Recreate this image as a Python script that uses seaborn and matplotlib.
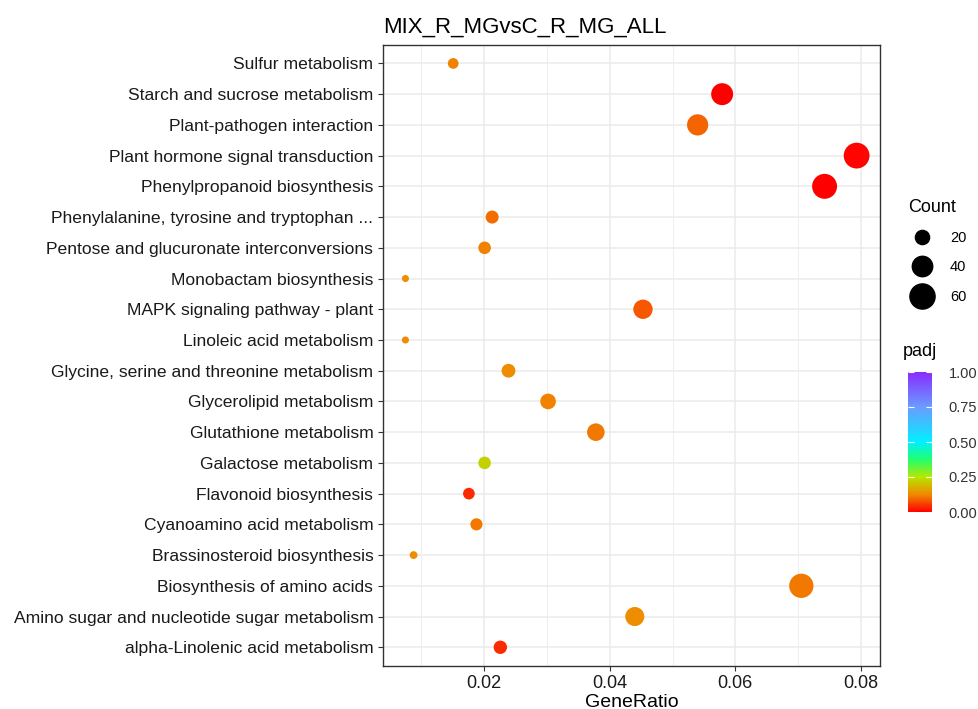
import numpy as np
import pandas as pd
import matplotlib
matplotlib.use("Agg")
import matplotlib.pyplot as plt
import seaborn as sns
from matplotlib.colors import LinearSegmentedColormap, Normalize
from matplotlib.lines import Line2D
import matplotlib.ticker as mticker

pathways = [
    "Sulfur metabolism",
    "Starch and sucrose metabolism",
    "Plant-pathogen interaction",
    "Plant hormone signal transduction",
    "Phenylpropanoid biosynthesis",
    "Phenylalanine, tyrosine and tryptophan ...",
    "Pentose and glucuronate interconversions",
    "Monobactam biosynthesis",
    "MAPK signaling pathway - plant",
    "Linoleic acid metabolism",
    "Glycine, serine and threonine metabolism",
    "Glycerolipid metabolism",
    "Glutathione metabolism",
    "Galactose metabolism",
    "Flavonoid biosynthesis",
    "Cyanoamino acid metabolism",
    "Brassinosteroid biosynthesis",
    "Biosynthesis of amino acids",
    "Amino sugar and nucleotide sugar metabolism",
    "alpha-Linolenic acid metabolism",
]
gene_ratio = [0.0151, 0.0579, 0.0540, 0.0793, 0.0742, 0.0213, 0.0201, 0.0075, 0.0453, 0.0075,
              0.0239, 0.0302, 0.0378, 0.0201, 0.0176, 0.0188, 0.0088, 0.0705, 0.0440, 0.0226]
count = [12, 46, 43, 63, 59, 17, 16, 6, 36, 6,
         19, 24, 30, 16, 14, 15, 7, 56, 35, 18]
padj = [0.12, 0.0, 0.09, 0.005, 0.0, 0.10, 0.12, 0.13, 0.08, 0.13,
        0.13, 0.12, 0.11, 0.22, 0.04, 0.11, 0.13, 0.11, 0.13, 0.04]

df = pd.DataFrame({"Pathway": pathways, "GeneRatio": gene_ratio, "Count": count, "padj": padj})

cmap = LinearSegmentedColormap.from_list("padj", [
    (0.0, "#ff0000"), (0.125, "#f08a00"), (0.25, "#b4e800"), (0.375, "#20ff70"),
    (0.5, "#00f0ff"), (0.75, "#6a9cff"), (1.0, "#8a2bff")])

plt.rcParams["font.family"] = ["Liberation Sans", "DejaVu Sans"]

fig = plt.figure(figsize=(9.79, 7.09), dpi=100)
ax = fig.add_axes([383 / 979, 1 - 665.7 / 709, 497 / 979, 620.7 / 709])

sns.scatterplot(data=df, x="GeneRatio", y="Pathway", hue="padj", palette=cmap, hue_norm=(0, 1),
                size="Count", sizes=(26, 345), size_norm=(6, 63), linewidth=0,
                legend=False, ax=ax, zorder=3)

ax.set_xlim(0.00393, 0.08302)
ax.set_ylim(len(pathways) - 0.4, -0.6)
ax.xaxis.set_major_locator(mticker.FixedLocator([0.02, 0.04, 0.06, 0.08]))
ax.xaxis.set_minor_locator(mticker.FixedLocator([0.01, 0.03, 0.05, 0.07]))
ax.set_xticklabels(["0.02", "0.04", "0.06", "0.08"])
ax.grid(which="major", color="#ebebeb", linewidth=1.1, zorder=0)
ax.grid(which="minor", axis="x", color="#ebebeb", linewidth=0.6, zorder=0)
ax.set_axisbelow(True)
for s in ax.spines.values():
    s.set_color("#333333")
    s.set_linewidth(1.0)
ax.tick_params(axis="both", which="major", length=3.5, color="#333333",
               labelcolor="#1a1a1a", width=0.8)
ax.tick_params(axis="y", labelsize=12.6)
ax.tick_params(axis="x", labelsize=13)
ax.tick_params(axis="x", which="minor", length=0)
ax.set_xlabel("GeneRatio", fontsize=14, labelpad=1)
ax.set_ylabel("")
ax.set_title("MIX_R_MGvsC_R_MG_ALL", fontsize=16, pad=9, loc="left")

# size legend
def diam(c):
    s = 26 + (c - 6) * (345 - 26) / (63 - 6)
    return np.sqrt(s)

handles = [Line2D([], [], marker="o", linestyle="", color="black", markersize=diam(c), label=str(c))
           for c in [20, 40, 60]]
fig.legend(handles=handles, title="Count", loc="upper left", bbox_to_anchor=(902 / 979, 1 - 193 / 709),
           frameon=False, fontsize=10.5, title_fontsize=13, labelspacing=1.05, handletextpad=0.9,
           borderaxespad=0, alignment="left")

# colour bar
cax = fig.add_axes([908 / 979, 1 - 512 / 709, 24 / 979, 140 / 709])
cb = fig.colorbar(plt.cm.ScalarMappable(norm=Normalize(0, 1), cmap=cmap), cax=cax)
cb.outline.set_visible(False)
cb.set_ticks([0, 0.25, 0.5, 0.75, 1.0])
cb.set_ticklabels(["0.00", "0.25", "0.50", "0.75", "1.00"])
cax.tick_params(direction="in", length=4, color="white", labelsize=10.5, labelcolor="#333333",
                left=True, right=True, pad=12)
fig.text(903 / 979, 1 - 352 / 709, "padj", fontsize=13, va="center", ha="left")

fig.savefig("out.png", dpi=100, facecolor="white")
